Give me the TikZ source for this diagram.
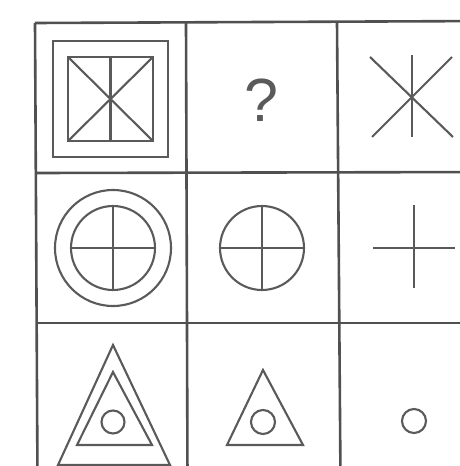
\documentclass[tikz,border=0pt]{standalone}
\usepackage{fontspec}
\setmainfont{Liberation Sans}
\definecolor{ink}{HTML}{5A5A5A}
\definecolor{gridink}{HTML}{505050}
\begin{document}
\begin{tikzpicture}[x=1pt,y=-1pt,
  gridline/.style={draw=gridink,line width=2.6pt},
  fig/.style={draw=ink,line width=2.1pt,line join=miter}]
\useasboundingbox (0,0) rectangle (460,466);
\fill[white] (0,0) rectangle (460,466);
\begin{scope}
\clip (0,0) rectangle (460,466);
% grid
\coordinate (tl) at (35,23);
\coordinate (bl) at (37.5,480);
\draw[gridline] (35,23) -- (490,21);
\draw[gridline] (35.5,173) -- (490,172);
\draw[gridline] (36.5,323) -- (490,323);
\draw[gridline] (tl) -- (bl);
\draw[gridline] (186,22) -- (187.5,480);
\draw[gridline] (337,22) -- (340.5,480);
% cell 1,1
\draw[fig] (52.7,41) rectangle (168.3,156.7);
\draw[fig] (68.3,57.3) rectangle (152.7,140.7);
\draw[fig] (68.3,57.3) -- (152.7,140.7);
\draw[fig] (152.7,57.3) -- (68.3,140.7);
\draw[fig] (110.5,57.3) -- (110.5,140.7);
% cell 1,2
\node[text=ink,font=\fontsize{61}{61}\selectfont,inner sep=0pt] (q) at (261.5,100) {?};
% cell 1,3
\draw[fig] (370,57) -- (453,137);
\draw[fig] (452,57) -- (372,137);
\draw[fig] (412,55) -- (412,137);
% cell 2,1
\draw[fig] (113,248) circle[radius=58];
\draw[fig] (113,248) circle[radius=42];
\draw[fig] (71,248) -- (155,248);
\draw[fig] (113,206) -- (113,290);
% cell 2,2
\draw[fig] (262,248) circle[radius=42];
\draw[fig] (220,248) -- (304,248);
\draw[fig] (262,206) -- (262,290);
% cell 2,3
\draw[fig] (373,248) -- (455,248);
\draw[fig] (414,205) -- (414,288);
% cell 3,1
\draw[fig] (113,345) -- (170,465) -- (58,465) -- cycle;
\draw[fig] (113,372) -- (152,445) -- (77,445) -- cycle;
\draw[fig] (113,422) circle[radius=11.5];
% cell 3,2
\draw[fig] (263,370) -- (303,445) -- (227,445) -- cycle;
\draw[fig] (263,422) circle[radius=12];
% cell 3,3
\draw[fig] (414,421) circle[radius=12];
\end{scope}
\end{tikzpicture}
\end{document}
